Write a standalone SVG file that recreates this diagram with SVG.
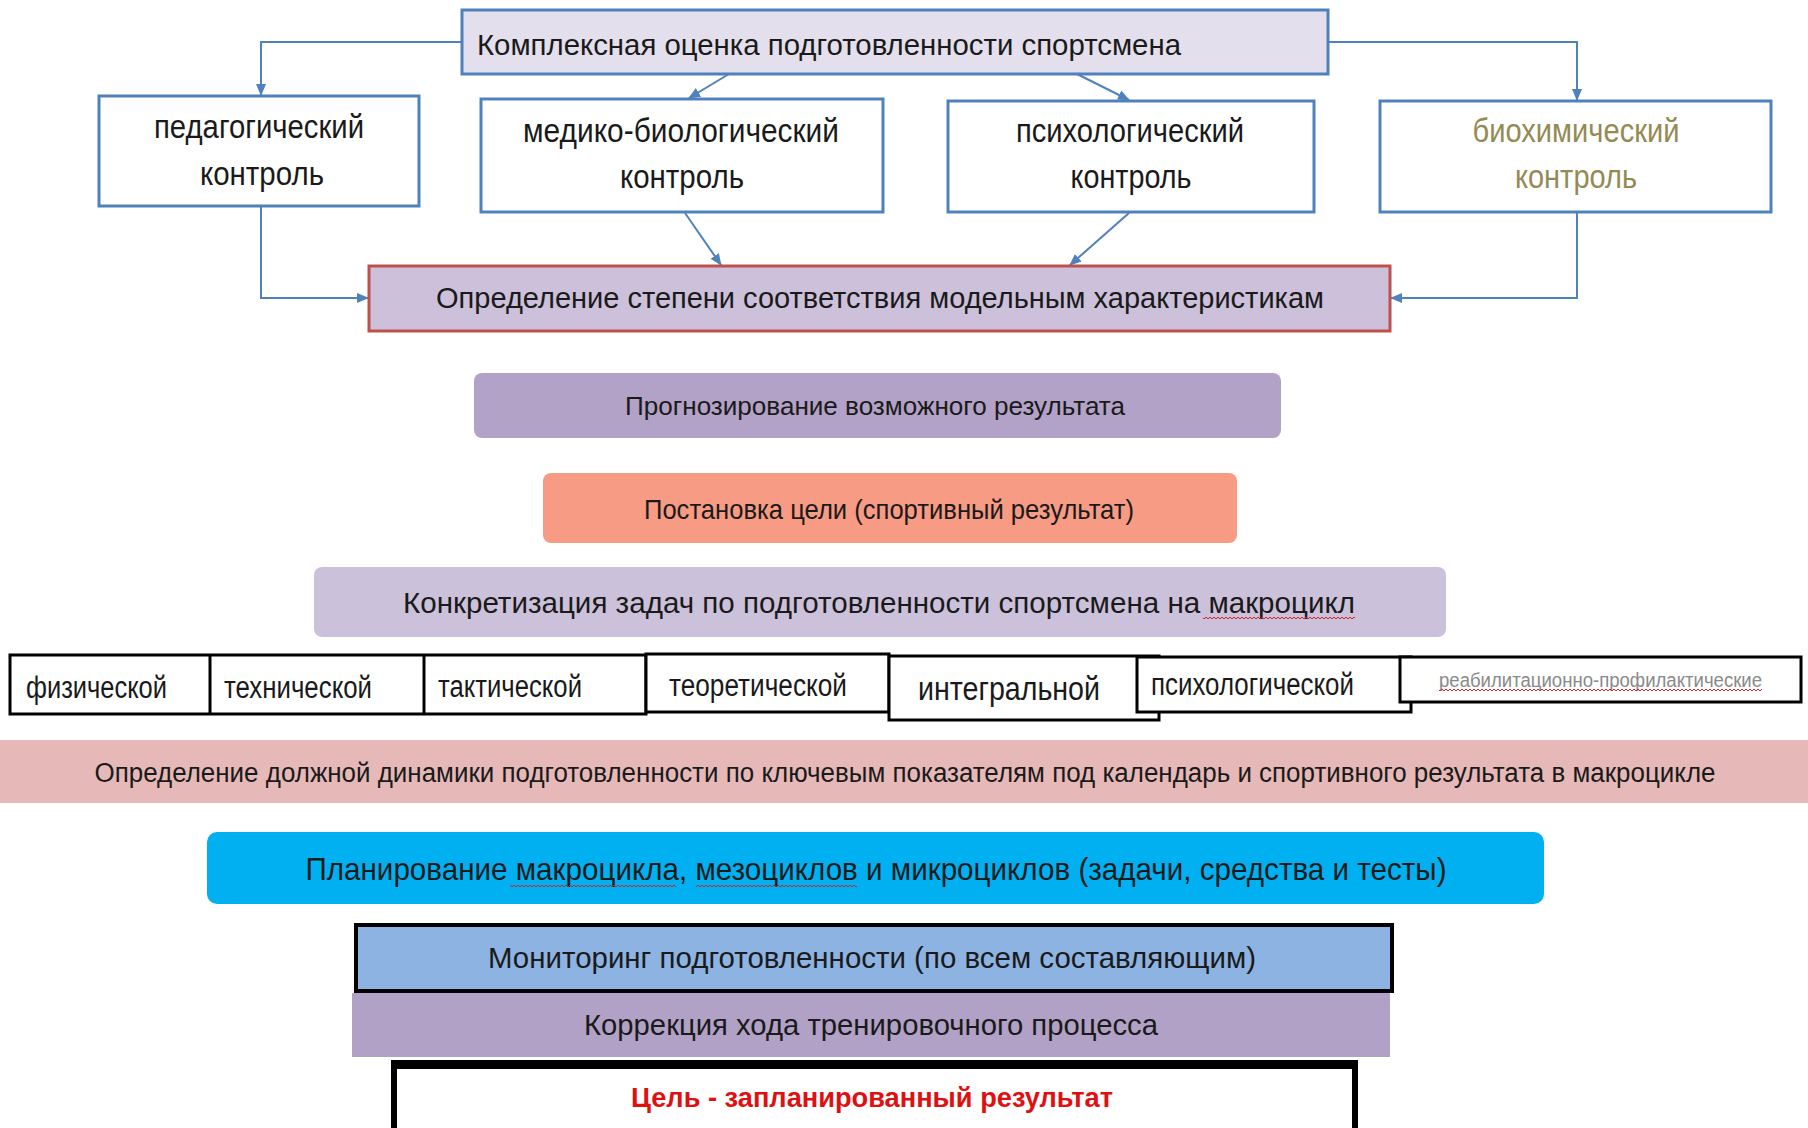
<svg xmlns="http://www.w3.org/2000/svg" width="1808" height="1128" viewBox="0 0 1808 1128">
<style>
text{font-family:"Liberation Sans","DejaVu Sans",sans-serif;fill:#1a1a1a}
.blue{fill:#fff;stroke:#4F81BD;stroke-width:3}
.tab{fill:#fff;stroke:#000;stroke-width:3}
.conn{fill:none;stroke:#4F81BD;stroke-width:2}
.m{text-anchor:middle}
</style>
<defs>
<marker id="ah" markerUnits="userSpaceOnUse" markerWidth="12" markerHeight="10" refX="11" refY="5" orient="auto">
<path d="M0,0 L12,5 L0,10 Z" fill="#4F81BD"/>
</marker>
<pattern id="wave" patternUnits="userSpaceOnUse" width="4" height="4">
<path d="M0,3 L2,1 L4,3" fill="none" stroke="#D02020" stroke-width="1"/>
</pattern>
</defs>
<rect width="1808" height="1128" fill="#fff"/>

<g id="connectors">
<path class="conn" d="M461,42 H261 V95" marker-end="url(#ah)"/>
<path class="conn" d="M729,74 L689,98" marker-end="url(#ah)"/>
<path class="conn" d="M1077,74 L1129,100" marker-end="url(#ah)"/>
<path class="conn" d="M1328,42 H1577 V100" marker-end="url(#ah)"/>
<path class="conn" d="M261,206 V298 H368" marker-end="url(#ah)"/>
<path class="conn" d="M685,213 L721,265" marker-end="url(#ah)"/>
<path class="conn" d="M1129,213 L1070,265" marker-end="url(#ah)"/>
<path class="conn" d="M1577,213 V298 H1391" marker-end="url(#ah)"/>
</g>

<g id="kompleks">
<rect x="462" y="10" width="866" height="64" fill="#E4DFEC" stroke="#4F81BD" stroke-width="3"/>
<text x="477" y="55" font-size="29" textLength="704" lengthAdjust="spacingAndGlyphs">Комплексная оценка подготовленности спортсмена</text>
</g>

<g id="ped">
<rect class="blue" x="99" y="96" width="320" height="110"/>
<text class="m" x="259" y="138" font-size="34" textLength="210" lengthAdjust="spacingAndGlyphs">педагогический</text>
<text class="m" x="262" y="185" font-size="34" textLength="124" lengthAdjust="spacingAndGlyphs">контроль</text>
</g>

<g id="med">
<rect class="blue" x="481" y="99" width="402" height="113"/>
<text class="m" x="681" y="142" font-size="34" textLength="316" lengthAdjust="spacingAndGlyphs">медико-биологический</text>
<text class="m" x="682" y="188" font-size="34" textLength="124" lengthAdjust="spacingAndGlyphs">контроль</text>
</g>

<g id="psy">
<rect class="blue" x="948" y="101" width="366" height="111"/>
<text class="m" x="1130" y="142" font-size="34" textLength="228" lengthAdjust="spacingAndGlyphs">психологический</text>
<text class="m" x="1131" y="188" font-size="34" textLength="121" lengthAdjust="spacingAndGlyphs">контроль</text>
</g>

<g id="bio">
<rect class="blue" x="1380" y="101" width="391" height="111"/>
<text class="m" x="1576" y="142" font-size="34" textLength="207" lengthAdjust="spacingAndGlyphs" style="fill:#948A54">биохимический</text>
<text class="m" x="1576" y="188" font-size="34" textLength="122" lengthAdjust="spacingAndGlyphs" style="fill:#948A54">контроль</text>
</g>

<g id="model">
<rect x="369" y="266" width="1021" height="65" fill="#CCC0DA" stroke="#C0504D" stroke-width="3"/>
<text class="m" x="880" y="308" font-size="29" textLength="888" lengthAdjust="spacingAndGlyphs">Определение степени соответствия модельным характеристикам</text>
</g>

<g id="prognoz">
<rect x="474" y="373" width="807" height="65" rx="8" fill="#B3A2C7"/>
<text class="m" x="875" y="415" font-size="26" textLength="500" lengthAdjust="spacingAndGlyphs">Прогнозирование возможного результата</text>
</g>

<g id="cel">
<rect x="543" y="473" width="694" height="70" rx="8" fill="#F89B84"/>
<text class="m" x="889" y="519" font-size="28" textLength="490" lengthAdjust="spacingAndGlyphs">Постановка цели (спортивный результат)</text>
</g>

<g id="konkret">
<rect x="314" y="567" width="1132" height="70" rx="8" fill="#CCC1DA"/>
<text class="m" x="879" y="613" font-size="30" textLength="952" lengthAdjust="spacingAndGlyphs">Конкретизация задач по подготовленности спортсмена на макроцикл</text>
<rect x="1203" y="616" width="152" height="4" fill="url(#wave)"/>
</g>

<g id="tabs">
<rect class="tab" x="10" y="655" width="636" height="59"/>
<line x1="210" y1="655" x2="210" y2="714" stroke="#000" stroke-width="3"/>
<line x1="424" y1="655" x2="424" y2="714" stroke="#000" stroke-width="3"/>
<rect class="tab" x="646" y="654" width="243" height="58"/>
<rect class="tab" x="889" y="656" width="270" height="64"/>
<rect class="tab" x="1137" y="657" width="274" height="55"/>
<rect class="tab" x="1400" y="657" width="401" height="45"/>
<text x="26" y="698" font-size="31" textLength="141" lengthAdjust="spacingAndGlyphs">физической</text>
<text x="224" y="698" font-size="31" textLength="148" lengthAdjust="spacingAndGlyphs">технической</text>
<text x="438" y="697" font-size="31" textLength="144" lengthAdjust="spacingAndGlyphs">тактической</text>
<text x="669" y="696" font-size="31" textLength="178" lengthAdjust="spacingAndGlyphs">теоретической</text>
<text x="918" y="700" font-size="33" textLength="182" lengthAdjust="spacingAndGlyphs">интегральной</text>
<text x="1151" y="695" font-size="31" textLength="203" lengthAdjust="spacingAndGlyphs">психологической</text>
<text x="1439" y="687" font-size="20" textLength="323" lengthAdjust="spacingAndGlyphs" style="fill:#8a8a8a">реабилитационно-профилактические</text>
<rect x="1439" y="689" width="323" height="4" fill="url(#wave)"/>
</g>

<g id="dinamika">
<rect x="0" y="740" width="1808" height="63" fill="#E6B9B8"/>
<text class="m" x="905" y="782" font-size="27" textLength="1621" lengthAdjust="spacingAndGlyphs">Определение должной динамики подготовленности по ключевым показателям под календарь и спортивного результата в макроцикле</text>
</g>

<g id="plan">
<rect x="207" y="832" width="1337" height="72" rx="10" fill="#00B0F0"/>
<text class="m" x="876" y="880" font-size="32" textLength="1141" lengthAdjust="spacingAndGlyphs">Планирование макроцикла, мезоциклов и микроциклов (задачи, средства и тесты)</text>
<rect x="510" y="883" width="166" height="4" fill="url(#wave)"/>
<rect x="696" y="883" width="161" height="4" fill="url(#wave)"/>
</g>

<g id="monitor">
<rect x="356" y="925" width="1036" height="66" fill="#8DB3E2" stroke="#000" stroke-width="4"/>
<text class="m" x="872" y="968" font-size="29" textLength="768" lengthAdjust="spacingAndGlyphs">Мониторинг подготовленности (по всем составляющим)</text>
</g>

<g id="korr">
<rect x="352" y="993" width="1038" height="64" fill="#B2A1C7"/>
<text class="m" x="871" y="1035" font-size="29" textLength="574" lengthAdjust="spacingAndGlyphs">Коррекция хода тренировочного процесса</text>
</g>

<g id="goal">
<rect x="394" y="1064" width="961" height="80" fill="#fff" stroke="#000" stroke-width="6"/>
<rect x="391" y="1060" width="967" height="9" fill="#000"/>
<text class="m" x="872" y="1107" font-size="28" font-weight="bold" textLength="482" lengthAdjust="spacingAndGlyphs" style="fill:#E01010">Цель - запланированный результат</text>
</g>
</svg>
